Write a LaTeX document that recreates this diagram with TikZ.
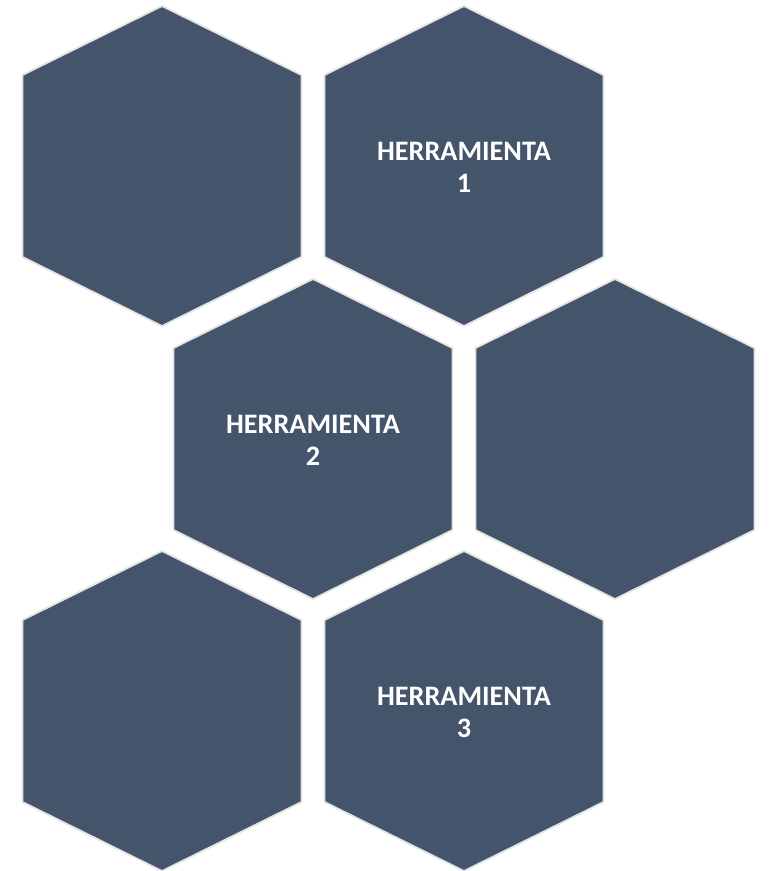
\documentclass[tikz,border=0pt]{standalone}
\usepackage{fontspec}
\setmainfont{Carlito}
\definecolor{hexfill}{HTML}{44546A}
\definecolor{hexedge}{HTML}{E4E4E4}
\tikzset{
  hexshape/.style={fill=hexfill, draw=hexedge, line width=1.8pt, line join=miter},
  hexlabel/.style={text=white, font=\bfseries\fontsize{28.2}{32}\selectfont, align=center, inner sep=0pt},
}
\newcommand{\hexat}[3]{% name, cx, top
  \draw[hexshape] (#2,#3) -- ++(139.5,69) -- ++(0,182) -- ++(-139.5,69) -- ++(-139.5,-69) -- ++(0,-182) -- cycle;
  \coordinate (#1) at (#2,#3+160);
}
\begin{document}
\begin{tikzpicture}[x=1pt,y=-1pt]
\useasboundingbox (0,0) rectangle (769,871);
\hexat{h1}{162}{6}
\hexat{h2}{464}{6}
\hexat{h3}{313}{279}
\hexat{h4}{615}{279}
\hexat{h5}{162}{551}
\hexat{h6}{464}{551}
\node[hexlabel] (t1) at ([yshift=-1pt]h2) {HERRAMIENTA\\1};
\node[hexlabel] (t2) at ([yshift=-1pt]h3) {HERRAMIENTA\\2};
\node[hexlabel] (t3) at ([yshift=-1pt]h6) {HERRAMIENTA\\3};
\end{tikzpicture}
\end{document}
